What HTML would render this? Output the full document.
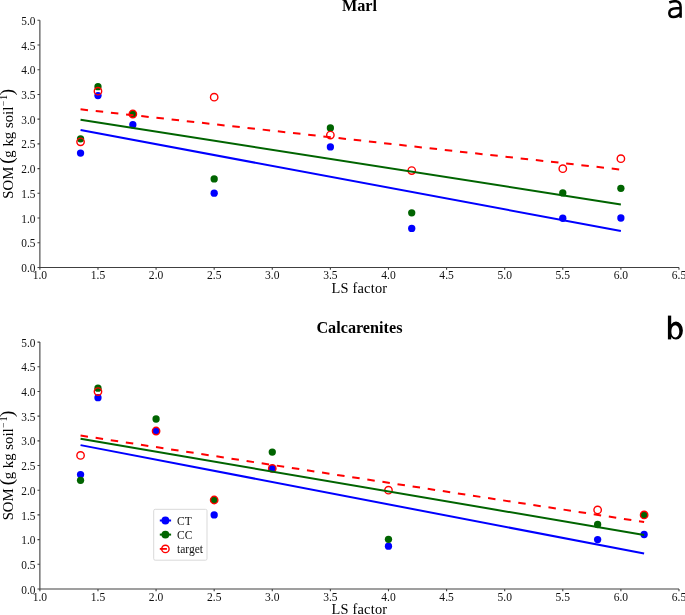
<!DOCTYPE html>
<html><head><meta charset="utf-8"><style>
html,body{margin:0;padding:0;background:#fff;}
svg{display:block;will-change:transform;}
text{font-family:"Liberation Serif",serif;fill:#000;}
.tk{font-size:12.2px;fill:#111;}
.at{font-size:14.4px;letter-spacing:0.2px;}
.tt{font-size:16.2px;font-weight:bold;}
.yl{font-size:14.8px;}
.par{font-size:19px;}
.sup{font-size:9.5px;}
.lg{font-size:12.4px;fill:#111;}
</style></head><body>
<svg width="685" height="615" viewBox="0 0 685 615">
<rect width="685" height="615" fill="#fff"/>
<path d="M39.88 20.30V267.45H678.98" fill="none" stroke="#404040" stroke-width="1.1"/>
<path d="M37.48 267.45H39.88 M37.48 242.73H39.88 M37.48 218.02H39.88 M37.48 193.31H39.88 M37.48 168.59H39.88 M37.48 143.88H39.88 M37.48 119.16H39.88 M37.48 94.44H39.88 M37.48 69.73H39.88 M37.48 45.01H39.88 M37.48 20.30H39.88 M39.88 267.45V269.85 M97.98 267.45V269.85 M156.08 267.45V269.85 M214.18 267.45V269.85 M272.28 267.45V269.85 M330.38 267.45V269.85 M388.48 267.45V269.85 M446.58 267.45V269.85 M504.68 267.45V269.85 M562.78 267.45V269.85 M620.88 267.45V269.85 M678.98 267.45V269.85" fill="none" stroke="#404040" stroke-width="1.1"/>
<text transform="translate(35.48 272.05) scale(0.93 1)" class="tk" text-anchor="end">0.0</text>
<text transform="translate(35.48 247.33) scale(0.93 1)" class="tk" text-anchor="end">0.5</text>
<text transform="translate(35.48 222.62) scale(0.93 1)" class="tk" text-anchor="end">1.0</text>
<text transform="translate(35.48 197.91) scale(0.93 1)" class="tk" text-anchor="end">1.5</text>
<text transform="translate(35.48 173.19) scale(0.93 1)" class="tk" text-anchor="end">2.0</text>
<text transform="translate(35.48 148.47) scale(0.93 1)" class="tk" text-anchor="end">2.5</text>
<text transform="translate(35.48 123.76) scale(0.93 1)" class="tk" text-anchor="end">3.0</text>
<text transform="translate(35.48 99.04) scale(0.93 1)" class="tk" text-anchor="end">3.5</text>
<text transform="translate(35.48 74.33) scale(0.93 1)" class="tk" text-anchor="end">4.0</text>
<text transform="translate(35.48 49.61) scale(0.93 1)" class="tk" text-anchor="end">4.5</text>
<text transform="translate(35.48 24.90) scale(0.93 1)" class="tk" text-anchor="end">5.0</text>
<text transform="translate(39.88 279.35) scale(0.95 1)" class="tk" text-anchor="middle">1.0</text>
<text transform="translate(97.98 279.35) scale(0.95 1)" class="tk" text-anchor="middle">1.5</text>
<text transform="translate(156.08 279.35) scale(0.95 1)" class="tk" text-anchor="middle">2.0</text>
<text transform="translate(214.18 279.35) scale(0.95 1)" class="tk" text-anchor="middle">2.5</text>
<text transform="translate(272.28 279.35) scale(0.95 1)" class="tk" text-anchor="middle">3.0</text>
<text transform="translate(330.38 279.35) scale(0.95 1)" class="tk" text-anchor="middle">3.5</text>
<text transform="translate(388.48 279.35) scale(0.95 1)" class="tk" text-anchor="middle">4.0</text>
<text transform="translate(446.58 279.35) scale(0.95 1)" class="tk" text-anchor="middle">4.5</text>
<text transform="translate(504.68 279.35) scale(0.95 1)" class="tk" text-anchor="middle">5.0</text>
<text transform="translate(562.78 279.35) scale(0.95 1)" class="tk" text-anchor="middle">5.5</text>
<text transform="translate(620.88 279.35) scale(0.95 1)" class="tk" text-anchor="middle">6.0</text>
<text transform="translate(678.98 279.35) scale(0.95 1)" class="tk" text-anchor="middle">6.5</text>
<text x="359.43" y="292.65" class="at" text-anchor="middle">LS factor</text>
<text x="359.43" y="10.80" class="tt" text-anchor="middle">Marl</text>
<g transform="translate(13.4 143.88) rotate(-90)"><text x="-54.85" y="0" class="yl">SOM</text><text x="-19.75" y="-0.6" class="par">(</text><text x="-13.75" y="0" class="yl">g kg soil</text><text x="37.65" y="-6.7" class="sup">−</text><text x="44.25" y="-6.9" class="sup">1</text><text x="48.65" y="-0.6" class="par">)</text></g>
<circle cx="80.55" cy="153.12" r="3.65" fill="#0000ff"/>
<circle cx="97.98" cy="95.53" r="3.65" fill="#0000ff"/>
<circle cx="132.84" cy="124.75" r="3.65" fill="#0000ff"/>
<circle cx="214.18" cy="193.21" r="3.65" fill="#0000ff"/>
<circle cx="330.38" cy="146.89" r="3.65" fill="#0000ff"/>
<circle cx="411.72" cy="228.45" r="3.65" fill="#0000ff"/>
<circle cx="562.78" cy="218.27" r="3.65" fill="#0000ff"/>
<circle cx="620.88" cy="218.02" r="3.65" fill="#0000ff"/>
<circle cx="80.55" cy="138.83" r="3.65" fill="#006400"/>
<circle cx="97.98" cy="86.64" r="3.65" fill="#006400"/>
<circle cx="132.84" cy="113.72" r="3.65" fill="#006400"/>
<circle cx="214.18" cy="178.97" r="3.65" fill="#006400"/>
<circle cx="330.38" cy="128.01" r="3.65" fill="#006400"/>
<circle cx="411.72" cy="212.83" r="3.65" fill="#006400"/>
<circle cx="562.78" cy="192.96" r="3.65" fill="#006400"/>
<circle cx="620.88" cy="188.36" r="3.65" fill="#006400"/>
<circle cx="80.55" cy="141.80" r="3.7" fill="none" stroke="#ff0000" stroke-width="1.4"/>
<circle cx="97.98" cy="91.13" r="3.7" fill="none" stroke="#ff0000" stroke-width="1.4"/>
<circle cx="132.84" cy="114.02" r="3.7" fill="none" stroke="#ff0000" stroke-width="1.4"/>
<circle cx="214.18" cy="97.21" r="3.7" fill="none" stroke="#ff0000" stroke-width="1.4"/>
<circle cx="330.38" cy="135.08" r="3.7" fill="none" stroke="#ff0000" stroke-width="1.4"/>
<circle cx="411.72" cy="170.62" r="3.7" fill="none" stroke="#ff0000" stroke-width="1.4"/>
<circle cx="562.78" cy="168.64" r="3.7" fill="none" stroke="#ff0000" stroke-width="1.4"/>
<circle cx="620.88" cy="158.70" r="3.7" fill="none" stroke="#ff0000" stroke-width="1.4"/>
<line x1="80.55" y1="130.08" x2="620.88" y2="231.07" stroke="#0000ff" stroke-width="2.0"/>
<line x1="80.55" y1="119.85" x2="620.88" y2="204.43" stroke="#006400" stroke-width="2.0"/>
<line x1="80.55" y1="109.32" x2="620.88" y2="169.58" stroke="#ff0000" stroke-width="2.0" stroke-dasharray="7.5 7.77"/>
<path d="M39.88 342.10V588.95H678.98" fill="none" stroke="#404040" stroke-width="1.1"/>
<path d="M37.48 588.95H39.88 M37.48 564.27H39.88 M37.48 539.58H39.88 M37.48 514.90H39.88 M37.48 490.21H39.88 M37.48 465.53H39.88 M37.48 440.84H39.88 M37.48 416.16H39.88 M37.48 391.47H39.88 M37.48 366.79H39.88 M37.48 342.10H39.88 M39.88 588.95V591.35 M97.98 588.95V591.35 M156.08 588.95V591.35 M214.18 588.95V591.35 M272.28 588.95V591.35 M330.38 588.95V591.35 M388.48 588.95V591.35 M446.58 588.95V591.35 M504.68 588.95V591.35 M562.78 588.95V591.35 M620.88 588.95V591.35 M678.98 588.95V591.35" fill="none" stroke="#404040" stroke-width="1.1"/>
<text transform="translate(35.48 593.55) scale(0.93 1)" class="tk" text-anchor="end">0.0</text>
<text transform="translate(35.48 568.87) scale(0.93 1)" class="tk" text-anchor="end">0.5</text>
<text transform="translate(35.48 544.18) scale(0.93 1)" class="tk" text-anchor="end">1.0</text>
<text transform="translate(35.48 519.50) scale(0.93 1)" class="tk" text-anchor="end">1.5</text>
<text transform="translate(35.48 494.81) scale(0.93 1)" class="tk" text-anchor="end">2.0</text>
<text transform="translate(35.48 470.13) scale(0.93 1)" class="tk" text-anchor="end">2.5</text>
<text transform="translate(35.48 445.44) scale(0.93 1)" class="tk" text-anchor="end">3.0</text>
<text transform="translate(35.48 420.76) scale(0.93 1)" class="tk" text-anchor="end">3.5</text>
<text transform="translate(35.48 396.07) scale(0.93 1)" class="tk" text-anchor="end">4.0</text>
<text transform="translate(35.48 371.39) scale(0.93 1)" class="tk" text-anchor="end">4.5</text>
<text transform="translate(35.48 346.70) scale(0.93 1)" class="tk" text-anchor="end">5.0</text>
<text transform="translate(39.88 600.85) scale(0.95 1)" class="tk" text-anchor="middle">1.0</text>
<text transform="translate(97.98 600.85) scale(0.95 1)" class="tk" text-anchor="middle">1.5</text>
<text transform="translate(156.08 600.85) scale(0.95 1)" class="tk" text-anchor="middle">2.0</text>
<text transform="translate(214.18 600.85) scale(0.95 1)" class="tk" text-anchor="middle">2.5</text>
<text transform="translate(272.28 600.85) scale(0.95 1)" class="tk" text-anchor="middle">3.0</text>
<text transform="translate(330.38 600.85) scale(0.95 1)" class="tk" text-anchor="middle">3.5</text>
<text transform="translate(388.48 600.85) scale(0.95 1)" class="tk" text-anchor="middle">4.0</text>
<text transform="translate(446.58 600.85) scale(0.95 1)" class="tk" text-anchor="middle">4.5</text>
<text transform="translate(504.68 600.85) scale(0.95 1)" class="tk" text-anchor="middle">5.0</text>
<text transform="translate(562.78 600.85) scale(0.95 1)" class="tk" text-anchor="middle">5.5</text>
<text transform="translate(620.88 600.85) scale(0.95 1)" class="tk" text-anchor="middle">6.0</text>
<text transform="translate(678.98 600.85) scale(0.95 1)" class="tk" text-anchor="middle">6.5</text>
<text x="359.43" y="614.15" class="at" text-anchor="middle">LS factor</text>
<text x="359.43" y="333.00" class="tt" text-anchor="middle">Calcarenites</text>
<g transform="translate(13.4 465.53) rotate(-90)"><text x="-54.85" y="0" class="yl">SOM</text><text x="-19.75" y="-0.6" class="par">(</text><text x="-13.75" y="0" class="yl">g kg soil</text><text x="37.65" y="-6.7" class="sup">−</text><text x="44.25" y="-6.9" class="sup">1</text><text x="48.65" y="-0.6" class="par">)</text></g>
<circle cx="80.55" cy="474.56" r="3.65" fill="#0000ff"/>
<circle cx="97.98" cy="397.69" r="3.65" fill="#0000ff"/>
<circle cx="156.08" cy="431.02" r="3.65" fill="#0000ff"/>
<circle cx="214.18" cy="514.94" r="3.65" fill="#0000ff"/>
<circle cx="272.28" cy="468.44" r="3.65" fill="#0000ff"/>
<circle cx="388.48" cy="546.15" r="3.65" fill="#0000ff"/>
<circle cx="597.64" cy="539.53" r="3.65" fill="#0000ff"/>
<circle cx="644.12" cy="534.49" r="3.65" fill="#0000ff"/>
<circle cx="80.55" cy="480.29" r="3.65" fill="#006400"/>
<circle cx="97.98" cy="388.16" r="3.65" fill="#006400"/>
<circle cx="156.08" cy="419.02" r="3.65" fill="#006400"/>
<circle cx="214.18" cy="499.99" r="3.65" fill="#006400"/>
<circle cx="272.28" cy="452.05" r="3.65" fill="#006400"/>
<circle cx="388.48" cy="539.33" r="3.65" fill="#006400"/>
<circle cx="597.64" cy="524.52" r="3.65" fill="#006400"/>
<circle cx="644.12" cy="514.90" r="3.65" fill="#006400"/>
<circle cx="80.55" cy="455.45" r="3.7" fill="none" stroke="#ff0000" stroke-width="1.4"/>
<circle cx="97.98" cy="391.62" r="3.7" fill="none" stroke="#ff0000" stroke-width="1.4"/>
<circle cx="156.08" cy="431.02" r="3.7" fill="none" stroke="#ff0000" stroke-width="1.4"/>
<circle cx="214.18" cy="499.99" r="3.7" fill="none" stroke="#ff0000" stroke-width="1.4"/>
<circle cx="272.28" cy="468.44" r="3.7" fill="none" stroke="#ff0000" stroke-width="1.4"/>
<circle cx="388.48" cy="490.21" r="3.7" fill="none" stroke="#ff0000" stroke-width="1.4"/>
<circle cx="597.64" cy="509.96" r="3.7" fill="none" stroke="#ff0000" stroke-width="1.4"/>
<circle cx="644.12" cy="514.90" r="3.7" fill="none" stroke="#ff0000" stroke-width="1.4"/>
<line x1="80.55" y1="445.14" x2="644.12" y2="553.55" stroke="#0000ff" stroke-width="2.0"/>
<line x1="80.55" y1="438.82" x2="644.12" y2="535.04" stroke="#006400" stroke-width="2.0"/>
<line x1="80.55" y1="435.51" x2="644.12" y2="522.00" stroke="#ff0000" stroke-width="2.0" stroke-dasharray="7.5 7.77"/>
<rect x="153.7" y="509.3" width="53.3" height="50.9" rx="1.5" fill="#fff" stroke="#d9d9d9" stroke-width="1"/>
<line x1="159.8" y1="520.5" x2="171.1" y2="520.5" stroke="#0000ff" stroke-width="2.0"/>
<circle cx="165.4" cy="520.5" r="3.9499999999999997" fill="#0000ff"/>
<text transform="translate(177.0 524.50) scale(0.93 1)" class="lg">CT</text>
<line x1="159.8" y1="534.6" x2="171.1" y2="534.6" stroke="#006400" stroke-width="2.0"/>
<circle cx="165.4" cy="534.6" r="3.9499999999999997" fill="#006400"/>
<text transform="translate(177.0 538.60) scale(0.93 1)" class="lg">CC</text>
<line x1="159.8" y1="548.9" x2="166.9" y2="548.9" stroke="#ff0000" stroke-width="1.8"/>
<circle cx="165.4" cy="548.9" r="3.7" fill="none" stroke="#ff0000" stroke-width="1.4"/>
<text transform="translate(177.0 552.90) scale(0.93 1)" class="lg">target</text>
<g fill="none" stroke="#000" stroke-width="2.5"><path d="M669.3 2.5C671.3 1.6 673.3 1.2 675.2 1.2C679 1.2 680.6 3.3 680.6 7V17.8"/><path d="M680.6 8.2H676.5C671.6 8.2 669.3 10 669.3 13C669.3 15.6 670.9 17 673.3 17C676.4 17 679 15.6 680.6 13"/></g><path fill="#000" d="M667.9 315.6H671.2V339.4H667.9Z"/><path fill="#000" fill-rule="evenodd" d="M676 321.6A6.9 9 0 1 1 676 339.6A6.9 9 0 1 1 676 321.6ZM675.25 325.3A4.05 6.1 0 1 0 675.25 337.5A4.05 6.1 0 1 0 675.25 325.3Z"/>
</svg>
</body></html>
